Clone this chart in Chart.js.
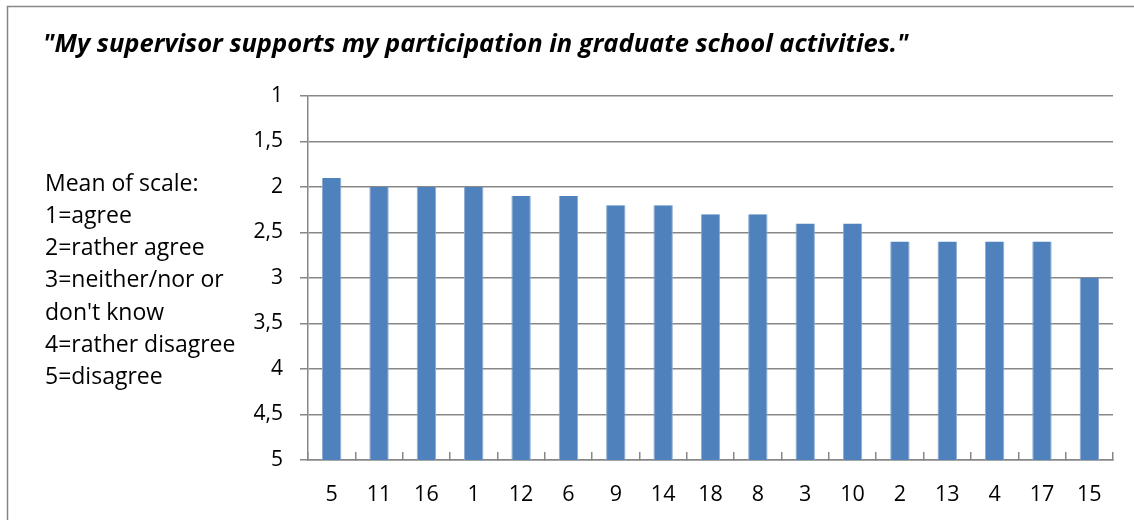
<!DOCTYPE html>
<html>
<head>
<meta charset="utf-8">
<script src="https://cdn.jsdelivr.net/npm/chart.js"></script>
<style>
  html, body { margin: 0; padding: 0; background: #fff; }
  #wrap { width: 1134px; height: 520px; position: relative; }
</style>
</head>
<body>
<div id="wrap"><canvas id="myChart" width="1134" height="520"></canvas></div>
<script>
// données du graphique
var titre = '"My supervisor supports my participation in graduate school activities."';
var legende = ['Mean of scale:', '1=agree', '2=rather agree', '3=neither/nor or', "don't know", '4=rather disagree', '5=disagree'];
var categories = ['5', '11', '16', '1', '12', '6', '9', '14', '18', '8', '3', '10', '2', '13', '4', '17', '15'];
var moyennes = [1.9, 2.0, 2.0, 2.0, 2.1, 2.1, 2.2, 2.2, 2.3, 2.3, 2.4, 2.4, 2.6, 2.6, 2.6, 2.6, 3.0];
var baseEchelle = 5;

var gris = '#878787';
var police = '"Open Sans", Lato, sans-serif';

// barres flottantes : de 5 (en bas) jusqu'à la moyenne
var barres = moyennes.map(function (v) { return [baseEchelle, v]; });

/**
 * cadre + titre + texte de légende à gauche
 */
var decor = {
    id: 'decor',
    beforeDraw: function (chart) {
        var c = chart.ctx;
        c.save();
        c.strokeStyle = gris;
        c.lineWidth = 1.5;
        c.beginPath();
        c.moveTo(7.5, 520);
        c.lineTo(7.5, 6.5);
        c.lineTo(1134, 6.5);
        c.stroke();

        c.fillStyle = '#000';
        c.textBaseline = 'middle';
        c.textAlign = 'left';
        c.font = 'italic bold 25.5px ' + police;
        c.fillText(titre, 43, 45);

        c.font = '23px ' + police;
        for (var i = 0; i < legende.length; i++) {
            c.fillText(legende[i], 45, 184 + i * 32.3);
        }
        c.restore();
    }
};

var ctx = document.getElementById('myChart').getContext('2d');
var myChart = new Chart(ctx, {
    type: 'bar',
    data: {
        labels: categories,
        datasets: [{
            data: barres,
            backgroundColor: '#4F81BD',
            borderColor: '#8DAAD3',
            borderWidth: { left: 1, right: 1, top: 0, bottom: 0 },
            borderSkipped: false,
            categoryPercentage: 1,
            barPercentage: 0.41
        }]
    },
    options: {
        responsive: false,
        animation: false,
        layout: { padding: { left: 200, right: 21, top: 96, bottom: 0 } },
        plugins: {
            legend: { display: false },
            tooltip: { enabled: false }
        },
        scales: {
            x: {
                afterFit: function (s) { s.height = 60; },
                grid: {
                    offset: true,
                    drawOnChartArea: false,
                    tickLength: -8,
                    color: gris,
                    lineWidth: 1.5
                },
                border: { color: gris, width: 1.5 },
                ticks: {
                    color: '#000',
                    padding: 30,
                    font: { family: police, size: 21.5 }
                }
            },
            y: {
                reverse: true,
                min: 1,
                max: 5,
                afterFit: function (s) { s.width = 108; },
                grid: { color: gris, lineWidth: 1.5, tickLength: 8 },
                border: { color: gris, width: 1.5 },
                ticks: {
                    stepSize: 0.5,
                    color: '#000',
                    padding: 17,
                    font: { family: police, size: 21 },
                    callback: function (v) { return v.toString().replace('.', ','); }
                }
            }
        }
    },
    plugins: [decor]
});
</script>
</body>
</html>
